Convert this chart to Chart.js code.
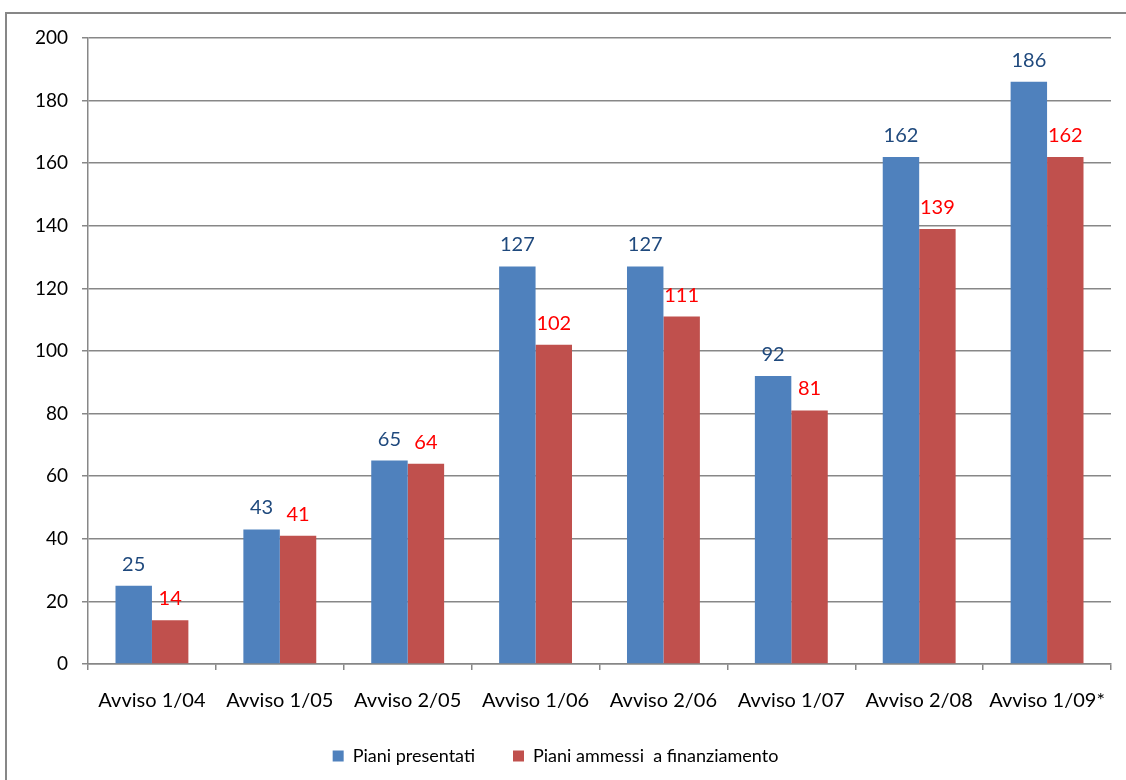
<!DOCTYPE html>
<html>
<head>
<meta charset="utf-8">
<script src="https://cdn.jsdelivr.net/npm/chart.js@4.4.1/dist/chart.umd.min.js"></script>
<style>
  html, body { margin: 0; padding: 0; background: #fff; }
  #wrap { width: 1126px; height: 780px; position: relative; }
</style>
</head>
<body>
<div id="wrap"><canvas id="c" width="1126" height="780"></canvas></div>
<script>
var categories = ['Avviso 1/04', 'Avviso 1/05', 'Avviso 2/05', 'Avviso 1/06', 'Avviso 2/06', 'Avviso 1/07', 'Avviso 2/08', 'Avviso 1/09*'];
var presentati = [25, 43, 65, 127, 127, 92, 162, 186];
var ammessi = [14, 41, 64, 102, 111, 81, 139, 162];
var seriesNames = ['Piani presentati', 'Piani ammessi  a finanziamento'];
var yTicks = [0, 20, 40, 60, 80, 100, 120, 140, 160, 180, 200];

var FONT = 'Lato, "Open Sans", sans-serif';
var GRID = '#878787';

// cornice esterna (solo lato superiore e sinistro visibili)
var framePlugin = {
  id: 'frame',
  beforeDraw: function(chart) {
    var ctx = chart.ctx;
    ctx.save();
    ctx.strokeStyle = GRID;
    ctx.lineWidth = 2;
    ctx.beginPath();
    ctx.moveTo(6, 780);
    ctx.lineTo(6, 13);
    ctx.lineTo(1126, 13);
    ctx.stroke();
    ctx.restore();
  }
};

// etichette valore sopra le barre
var valueLabels = {
  id: 'valueLabels',
  afterDatasetsDraw: function(chart) {
    var ctx = chart.ctx;
    ctx.save();
    ctx.font = '20px ' + FONT;
    ctx.textAlign = 'center';
    ctx.textBaseline = 'alphabetic';
    chart.data.datasets.forEach(function(ds, i) {
      var meta = chart.getDatasetMeta(i);
      ctx.fillStyle = ds.labelColor;
      meta.data.forEach(function(bar, j) {
        ctx.fillText(ds.data[j], bar.x, bar.y - 15);
      });
    });
    ctx.restore();
  }
};

new Chart(document.getElementById('c').getContext('2d'), {
  type: 'bar',
  data: {
    labels: categories,
    datasets: [
      { label: seriesNames[0], data: presentati, backgroundColor: '#4F81BD', labelColor: '#1F497D' },
      { label: seriesNames[1], data: ammessi, backgroundColor: '#C0504D', labelColor: '#FF0000' }
    ]
  },
  options: {
    responsive: false,
    animation: false,
    devicePixelRatio: 1,
    layout: { padding: { top: 38, right: 15, left: 0, bottom: 5 } },
    datasets: { bar: { categoryPercentage: 0.57, barPercentage: 1 } },
    plugins: {
      legend: {
        position: 'bottom',
        labels: { color: '#000', font: { family: FONT, size: 18 }, boxWidth: 11, boxHeight: 11, padding: 38 }
      },
      tooltip: { enabled: false }
    },
    scales: {
      x: {
        grid: { display: true, drawOnChartArea: false, offset: true, color: GRID, tickLength: 6, lineWidth: 1.5 },
        border: { color: GRID, width: 1.5 },
        ticks: { color: '#000', font: { family: FONT, size: 20 }, padding: 19, maxRotation: 0 },
        afterFit: function(s) { s.height = 45; }
      },
      y: {
        min: 0, max: 200,
        afterBuildTicks: function(s) { s.ticks = yTicks.map(function(v) { return { value: v }; }); },
        grid: { color: GRID, lineWidth: 1.5, tickLength: 6 },
        border: { color: GRID, width: 1.5 },
        ticks: { color: '#000', font: { family: FONT, size: 19 }, padding: 14 },
        afterFit: function(s) { s.width = 88; }
      }
    }
  },
  plugins: [framePlugin, valueLabels]
});
</script>
</body>
</html>
